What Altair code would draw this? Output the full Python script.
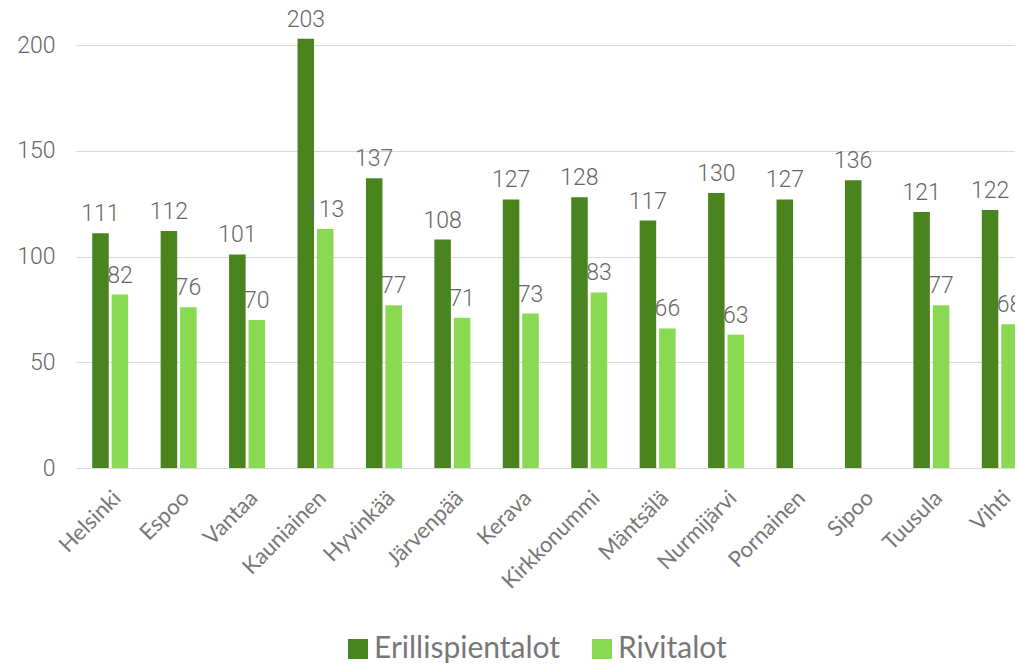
import altair as alt
import pandas as pd

municipalities = ["Helsinki", "Espoo", "Vantaa", "Kauniainen", "Hyvinkää", "Järvenpää",
                  "Kerava", "Kirkkonummi", "Mäntsälä", "Nurmijärvi", "Pornainen", "Sipoo",
                  "Tuusula", "Vihti"]
erillispientalot = [111, 112, 101, 203, 137, 108, 127, 128, 117, 130, 127, 136, 121, 122]
rivitalot = [82, 76, 70, 113, 77, 71, 73, 83, 66, 63, None, None, 77, 68]
series = ["Erillispientalot", "Rivitalot"]
colors = ["#4A841E", "#89D952"]
y_ticks = [0, 50, 100, 150, 200]

rows = []
for m, a, b in zip(municipalities, erillispientalot, rivitalot):
    rows.append({"kunta": m, "tyyppi": series[0], "arvo": a})
    if b is not None:
        rows.append({"kunta": m, "tyyppi": series[1], "arvo": b})
df = pd.DataFrame(rows)

TEXT = "#666666"
TEXT2 = "#777777"

x_enc = alt.X("kunta:N", sort=municipalities, title=None,
              scale=alt.Scale(domain=municipalities,
                              paddingInner=0.474, paddingOuter=0.237),
              axis=alt.Axis(labelAngle=-45, labelFont="Lato", labelFontSize=22,
                            labelColor=TEXT2, ticks=False, domain=False,
                            labelPadding=19, labelOffset=0, labelOverlap=False,
                            labelLimit=300))
xoff = alt.XOffset("tyyppi:N", scale=alt.Scale(domain=series, paddingInner=0.15))
y_enc = alt.Y("arvo:Q", title=None,
              scale=alt.Scale(domain=[0, 200], nice=False),
              axis=alt.Axis(values=y_ticks, domain=False, ticks=False,
                            gridColor="#D9D9D9", gridWidth=1.2,
                            labelFont="Roboto", labelFontSize=23, labelFontWeight=300,
                            labelColor=TEXT, labelPadding=21))

bars = alt.Chart(df).mark_bar(clip=False).encode(
    x=x_enc, xOffset=xoff, y=y_enc,
    color=alt.Color("tyyppi:N", scale=alt.Scale(domain=series, range=colors),
                    legend=alt.Legend(title=None, orient="none", direction="horizontal",
                                      legendX=267, legendY=589,
                                      symbolType="square", symbolSize=400,
                                      symbolStrokeWidth=0,
                                      labelFont="Lato", labelFontSize=30,
                                      labelColor=TEXT2, labelOffset=1,
                                      columnPadding=26, labelLimit=400))
)

labels = alt.Chart(df).mark_text(baseline="alphabetic", dy=-12, font="Roboto",
                                 fontSize=23, fontWeight=300, color=TEXT).encode(
    x=alt.X("kunta:N", sort=municipalities), xOffset=alt.XOffset("tyyppi:N"),
    y="arvo:Q", text=alt.Text("arvo:Q", format="d")
)

chart = alt.layer(bars, labels).properties(
    width=958, height=423,
    autosize=alt.AutoSizeParams(type="none"),
    padding={"left": 68, "top": 37, "right": -19, "bottom": 196},
).configure_view(stroke=None)

chart.save("out.html", embed_options={"renderer": "svg", "actions": False})
